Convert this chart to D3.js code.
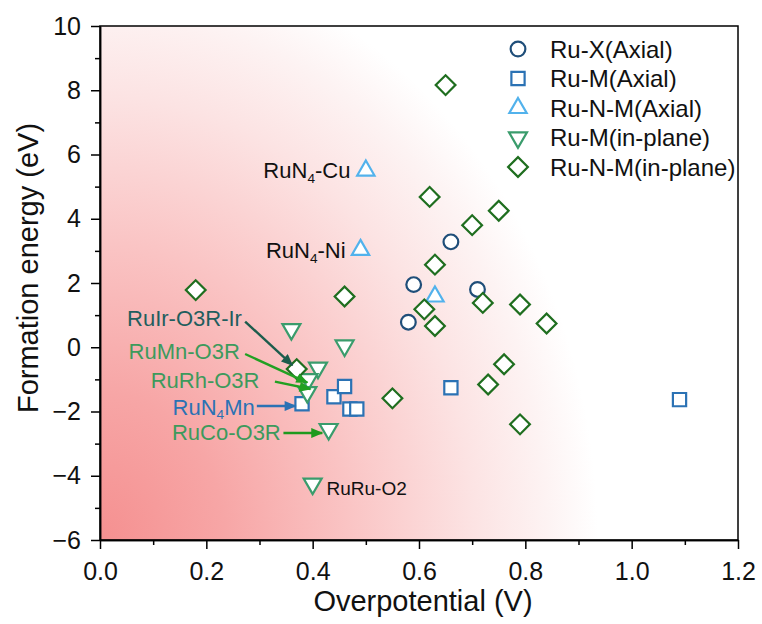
<!DOCTYPE html>
<html>
<head>
<meta charset="utf-8">
<script src="https://cdn.jsdelivr.net/npm/d3@7/dist/d3.min.js"></script>
<style>
body { margin: 0; background: #fff; }
text { font-family: "Liberation Sans", Arial, sans-serif; }
</style>
</head>
<body>
<div id="chart"></div>
<script>
// data: [overpotential (V), formation energy (eV)]
var ruX_axial = [[0.58, 0.78], [0.59, 1.95], [0.66, 3.28], [0.71, 1.80]];
var ruM_axial = [[0.38, -1.76], [0.44, -1.54], [0.46, -1.22], [0.47, -1.92], [0.483, -1.92], [0.66, -1.26], [1.09, -1.63]];
var ruNM_axial = [[0.49, 3.03], [0.50, 5.50], [0.63, 1.58]];
var ruM_inplane = [[0.36, 0.56], [0.46, 0.05], [0.41, -0.64], [0.392, -1.0], [0.39, -1.40], [0.43, -2.55], [0.40, -4.25]];
var ruNM_inplane = [[0.18, 1.78], [0.37, -0.68], [0.46, 1.58], [0.55, -1.59], [0.61, 1.18], [0.62, 4.68],
    [0.63, 2.57], [0.63, 0.66], [0.65, 8.16], [0.70, 3.80], [0.72, 1.38], [0.73, -1.16], [0.75, 4.25],
    [0.76, -0.53], [0.79, 1.33], [0.79, -2.40], [0.84, 0.74]];

var seriesNames = ['Ru-X(Axial)', 'Ru-M(Axial)', 'Ru-N-M(Axial)', 'Ru-M(in-plane)', 'Ru-N-M(in-plane)'];
var seriesData = [ruX_axial, ruM_axial, ruNM_axial, ruM_inplane, ruNM_inplane];

var xTicks = [0, 0.2, 0.4, 0.6, 0.8, 1.0, 1.2];
var yTicks = [-6, -4, -2, 0, 2, 4, 6, 8, 10];

// labels pointing at single structures: text end position and arrow from/to (data units)
var arrowLabels = ['RuIr-O3R-Ir', 'RuMn-O3R', 'RuRh-O3R', 'RuN4Mn', 'RuCo-O3R'];
var arrowTextPos = [[0.267, 0.92], [0.263, -0.13], [0.300, -1.01], [0.291, -1.85], [0.340, -2.64]];
var arrowFrom = [[0.273, 0.80], [0.273, -0.21], [0.329, -1.07], [0.295, -1.83], [0.345, -2.67]];
var arrowTo = [[0.362, -0.56], [0.390, -1.10], [0.396, -1.30], [0.368, -1.83], [0.418, -2.67]];
var plainLabels = ['RuN4-Cu', 'RuN4-Ni', 'RuRu-O2'];
var plainLabelPos = [[0.471, 5.52], [0.462, 3.03], [0.426, -4.38]];

var width = 762, height = 624;
var margin = { top: 26, right: 24, bottom: 84, left: 100 };
var w = width - margin.left - margin.right,
    h = height - margin.top - margin.bottom;

var svg = d3.select('#chart').append('svg')
    .attr('width', width)
    .attr('height', height);

var defs = svg.append('defs');

var x = d3.scaleLinear().domain([0, 1.2]).range([0, w]);
var y = d3.scaleLinear().domain([-6, 10]).range([h, 0]);

var g = svg.append('g')
    .attr('transform', 'translate(' + margin.left + ',' + margin.top + ')');

// red glow coming out of the low-left corner
var grad = defs.append('radialGradient')
    .attr('id', 'bgglow')
    .attr('gradientUnits', 'userSpaceOnUse')
    .attr('cx', 0).attr('cy', 0).attr('r', 1)
    .attr('gradientTransform', 'translate(0,' + h + ') scale(' + (w * 0.78) + ',' + (h * 1.15) + ')');
var stops = [[0, '#f59090'], [0.25, '#f7a6a6'], [0.5, '#fac4c4'], [0.75, '#fce3e3'], [0.9, '#fdf3f3'], [1, '#ffffff']];
grad.selectAll('stop').data(stops).enter().append('stop')
    .attr('offset', function (d) { return d[0]; })
    .attr('stop-color', function (d) { return d[1]; });

g.append('rect')
    .attr('width', w)
    .attr('height', h)
    .attr('fill', 'url(#bgglow)');

// axes
var xAxis = d3.axisBottom(x).tickValues(xTicks).tickFormat(d3.format('.1f'))
    .tickSize(9).tickPadding(13).tickSizeOuter(0);
var xMinor = d3.axisBottom(x).tickValues(d3.range(0.1, 1.2, 0.2)).tickFormat('').tickSize(5).tickSizeOuter(0);
var yAxis = d3.axisLeft(y).tickValues(yTicks).tickFormat(d3.format('d'))
    .tickSize(9).tickPadding(10).tickSizeOuter(0);
var yMinor = d3.axisLeft(y).tickValues(d3.range(-5, 10, 2)).tickFormat('').tickSize(5).tickSizeOuter(0);

g.append('g').attr('class', 'axis').attr('transform', 'translate(0,' + h + ')').call(xMinor);
g.append('g').attr('class', 'axis').attr('transform', 'translate(0,' + h + ')').call(xAxis);
g.append('g').attr('class', 'axis').call(yMinor);
g.append('g').attr('class', 'axis').call(yAxis);

g.selectAll('.axis text').attr('font-size', 25).attr('fill', '#111').attr('font-family', '"Liberation Sans", Arial, sans-serif');
g.selectAll('.axis line').attr('stroke', '#000').attr('stroke-width', 1.5);
g.selectAll('.axis path').attr('stroke', '#000').attr('stroke-width', 1.5);

// frame
g.append('rect')
    .attr('width', w)
    .attr('height', h)
    .attr('fill', 'none')
    .attr('stroke', '#000')
    .attr('stroke-width', 1.5);

svg.append('text')
    .attr('x', margin.left + w / 2 + 4)
    .attr('y', 611)
    .attr('text-anchor', 'middle')
    .attr('font-size', 29)
    .attr('fill', '#111')
    .text('Overpotential (V)');

svg.append('text')
    .attr('transform', 'translate(38,' + 268 + ') rotate(-90)')
    .attr('text-anchor', 'middle')
    .attr('font-size', 29)
    .attr('fill', '#111')
    .text('Formation energy (eV)');

// marker shapes
var colors = ['#1f4e79', '#2b72b4', '#52b2ec', '#3a9c6c', '#1f6e1f'];
var shapes = [
    d3.symbol().type(d3.symbolCircle).size(170),
    d3.symbol().type(d3.symbolSquare).size(175),
    d3.symbol().type(d3.symbolTriangle).size(130),
    d3.symbol().type(d3.symbolTriangle).size(140),
    d3.symbol().type(d3.symbolSquare).size(195)
];
var rotations = [0, 0, 0, 180, 45];

function drawMarker(sel, i) {
    sel.append('path')
        .attr('d', shapes[i]())
        .attr('fill', 'white')
        .attr('stroke', colors[i])
        .attr('stroke-width', 2.2);
}

seriesData.forEach(function (data, i) {
    g.append('g').attr('class', 'series' + i)
        .selectAll('g').data(data).enter().append('g')
        .attr('transform', function (d) {
            return 'translate(' + x(d[0]) + ',' + y(d[1]) + ') rotate(' + rotations[i] + ')';
        })
        .each(function () { drawMarker(d3.select(this), i); });
});

// legend (sits inside the frame, top right)
var legend = svg.append('g').attr('transform', 'translate(518,49)');
seriesNames.forEach(function (name, i) {
    var row = legend.append('g').attr('transform', 'translate(0,' + (i * 29.5) + ')');
    row.append('g').attr('transform', 'rotate(' + rotations[i] + ')')
        .call(function (s) { drawMarker(s, i); });
    row.append('text')
        .attr('x', 32)
        .attr('dy', '0.36em')
        .attr('font-size', 24)
        .attr('fill', '#111')
        .text(name);
});

// annotations
var arrowColors = ['#1c5c4c', '#22a022', '#22a022', '#2b72b4', '#1e9a1e'];
var labelColors = ['#1f5e5e', '#3d9a5c', '#3d9a5c', '#2b72b4', '#3d9a5c'];

arrowColors.forEach(function (c, i) {
    defs.append('marker')
        .attr('id', 'head' + i)
        .attr('markerUnits', 'userSpaceOnUse')
        .attr('viewBox', '0 0 12 10')
        .attr('refX', 11).attr('refY', 5)
        .attr('markerWidth', 13).attr('markerHeight', 10)
        .attr('orient', 'auto')
        .append('path')
        .attr('d', 'M0,0 L12,5 L0,10 Z')
        .attr('fill', c);
});

function addLabel(sel, txt, size) {
    // "N4" gets a subscript 4
    var parts = txt.split('N4');
    sel.append('tspan').text(parts[0] + (parts.length > 1 ? 'N' : ''));
    if (parts.length > 1) {
        sel.append('tspan').attr('font-size', size * 0.62).attr('dy', size * 0.22).text('4');
        sel.append('tspan').attr('dy', -size * 0.22).text(parts[1]);
    }
}

arrowLabels.forEach(function (label, i) {
    g.append('line')
        .attr('x1', x(arrowFrom[i][0])).attr('y1', y(arrowFrom[i][1]))
        .attr('x2', x(arrowTo[i][0])).attr('y2', y(arrowTo[i][1]))
        .attr('stroke', arrowColors[i])
        .attr('stroke-width', 2.4)
        .attr('marker-end', 'url(#head' + i + ')');
    var t = g.append('text')
        .attr('x', x(arrowTextPos[i][0]))
        .attr('y', y(arrowTextPos[i][1]))
        .attr('dy', '0.36em')
        .attr('text-anchor', 'end')
        .attr('font-size', 22)
        .attr('fill', labelColors[i]);
    addLabel(t, label, 22);
});

plainLabels.forEach(function (label, i) {
    var small = label === 'RuRu-O2';
    var t = g.append('text')
        .attr('x', x(plainLabelPos[i][0]))
        .attr('y', y(plainLabelPos[i][1]))
        .attr('dy', '0.36em')
        .attr('text-anchor', small ? 'start' : 'end')
        .attr('font-size', small ? 19 : 22)
        .attr('fill', '#111');
    addLabel(t, label, 22);
});
</script>
</body>
</html>
